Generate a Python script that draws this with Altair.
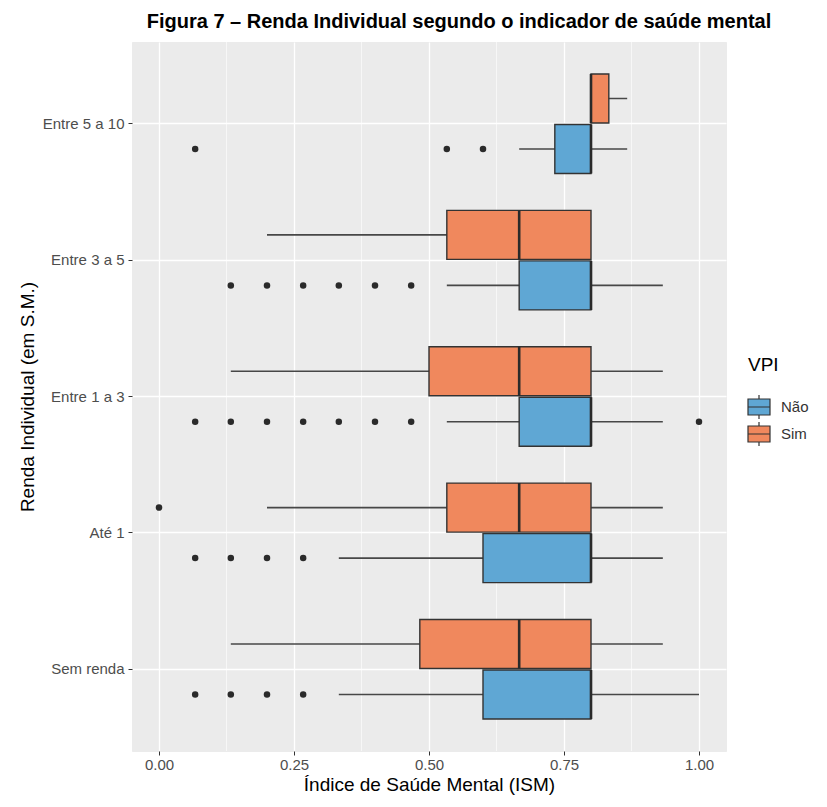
import altair as alt
import pandas as pd

categories = ["Entre 5 a 10", "Entre 3 a 5", "Entre 1 a 3", "Até 1", "Sem renda"]
dodge_order = ["Sim", "Não"]
legend_order = ["Não", "Sim"]

box_cat = ["Entre 5 a 10", "Entre 5 a 10", "Entre 3 a 5", "Entre 3 a 5", "Entre 1 a 3",
           "Entre 1 a 3", "Até 1", "Até 1", "Sem renda", "Sem renda"]
box_vpi = ["Sim", "Não", "Sim", "Não", "Sim", "Não", "Sim", "Não", "Sim", "Não"]
whisker_low = [0.800, 0.667, 0.200, 0.533, 0.133, 0.533, 0.200, 0.333, 0.133, 0.333]
q1 = [0.800, 0.733, 0.533, 0.667, 0.500, 0.667, 0.533, 0.600, 0.483, 0.600]
median = [0.800, 0.800, 0.667, 0.800, 0.667, 0.800, 0.667, 0.800, 0.667, 0.800]
q3 = [0.833, 0.800, 0.800, 0.800, 0.800, 0.800, 0.800, 0.800, 0.800, 0.800]
whisker_high = [0.867, 0.867, 0.800, 0.933, 0.933, 0.933, 0.933, 0.933, 0.933, 1.000]

out_cat = (["Entre 5 a 10"] * 3 + ["Entre 3 a 5"] * 6 + ["Entre 1 a 3"] * 8
           + ["Até 1"] * 1 + ["Até 1"] * 4 + ["Sem renda"] * 4)
out_vpi = (["Não"] * 3 + ["Não"] * 6 + ["Não"] * 8 + ["Sim"] * 1 + ["Não"] * 4 + ["Não"] * 4)
out_val = ([0.067, 0.533, 0.600]
           + [0.133, 0.200, 0.267, 0.333, 0.400, 0.467]
           + [0.067, 0.133, 0.200, 0.267, 0.333, 0.400, 0.467, 1.000]
           + [0.000]
           + [0.067, 0.133, 0.200, 0.267]
           + [0.067, 0.133, 0.200, 0.267])

x_major = [0.0, 0.25, 0.5, 0.75, 1.0]
x_minor = [0.125, 0.375, 0.625, 0.875]

BLUE = "#5FA7D4"
ORANGE = "#F0885D"
DARK = "#333333"
FONT = "Liberation Sans"

boxes = pd.DataFrame({"cat": box_cat, "vpi": box_vpi, "lo": whisker_low, "q1": q1,
                      "med": median, "q3": q3, "hi": whisker_high})
outliers = pd.DataFrame({"cat": out_cat, "vpi": out_vpi, "val": out_val})
minor = pd.DataFrame({"m": x_minor})

xscale = alt.Scale(domain=[-0.05, 1.05], nice=False, zero=False)
xaxis = alt.Axis(title="Índice de Saúde Mental (ISM)", values=x_major, format=".2f",
                 grid=True, gridColor="white", gridWidth=1.3, domain=False,
                 tickColor=DARK, tickSize=4, labelColor="#4D4D4D", labelFontSize=15,
                 labelPadding=2, titleFontSize=19, titleColor="black",
                 titleFontWeight="normal", titlePadding=3, labelFont=FONT, titleFont=FONT)
yaxis = alt.Axis(title="Renda Individual (em S.M.)", grid=True, gridColor="white",
                 gridWidth=1.3, bandPosition=0.5, domain=False, tickColor=DARK,
                 tickSize=4, labelColor="#4D4D4D", labelFontSize=15, labelPadding=4,
                 titleFontSize=19, titleColor="black", titleFontWeight="normal",
                 titlePadding=5, labelFont=FONT, titleFont=FONT)

yenc = alt.Y("cat:N", sort=categories,
             scale=alt.Scale(domain=categories, paddingInner=0.27, paddingOuter=0.235),
             axis=yaxis)
yoff = alt.YOffset("vpi:N", sort=dodge_order,
                   scale=alt.Scale(domain=dodge_order, paddingInner=0.03, paddingOuter=0))

minor_grid = alt.Chart(minor).mark_rule(color="white", strokeWidth=0.6).encode(
    x=alt.X("m:Q", scale=xscale, axis=xaxis)
)

whiskers = alt.Chart(boxes).mark_rule(color="#474747", strokeWidth=1.6).encode(
    x=alt.X("lo:Q", scale=xscale, axis=xaxis), x2="hi:Q", y=yenc, yOffset=yoff
)

box = alt.Chart(boxes).mark_bar(stroke=DARK, strokeWidth=1.4).encode(
    x=alt.X("q1:Q", scale=xscale, axis=xaxis), x2="q3:Q", y=yenc, yOffset=yoff,
    fill=alt.Fill("vpi:N", scale=alt.Scale(domain=legend_order, range=[BLUE, ORANGE]),
                  legend=alt.Legend(title="VPI", titleFontSize=19, titleFont=FONT,
                                    titleColor="black", titleFontWeight="normal",
                                    labelFontSize=15, labelFont=FONT, labelColor="#333333",
                                    symbolType="M-1.1,-0.8H1.1V0.8H-1.1Z M-1.1,0H1.1 M0,-1.2V-0.8 M0,0.8V1.2",
                                    symbolSize=400, symbolStrokeColor=DARK,
                                    symbolStrokeWidth=1.2, rowPadding=-3, titlePadding=21,
                                    labelOffset=11, orient="none", legendX=616, legendY=314))
)

medians = alt.Chart(boxes).mark_bar(stroke="#2a2a2a", strokeWidth=2.6).encode(
    x=alt.X("med:Q", scale=xscale, axis=xaxis), x2="med:Q", y=yenc, yOffset=yoff
)

points = alt.Chart(outliers).mark_circle(size=42, color="#2a2a2a", opacity=1).encode(
    x=alt.X("val:Q", scale=xscale, axis=xaxis), y=yenc, yOffset=yoff
)

chart = alt.layer(minor_grid, whiskers, box, medians, points).properties(
    width=594, height=709,
    title=alt.Title("Figura 7 – Renda Individual segundo o indicador de saúde mental",
                    font=FONT, fontSize=20, fontWeight="bold", color="black",
                    anchor="middle", dx=30, offset=10),
    padding={"left": 10, "top": 3, "right": 5, "bottom": 1},
).configure_view(fill="#EBEBEB", stroke="#EBEBEB")

chart.save("out.html", embed_options={"renderer": "svg", "actions": False})
